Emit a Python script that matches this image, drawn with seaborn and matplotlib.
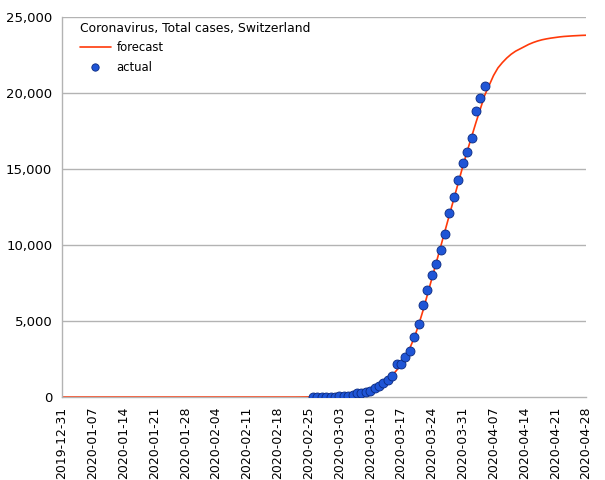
import pandas as pd
import matplotlib.pyplot as plt
import seaborn as sns
import matplotlib.dates as mdates
from matplotlib.ticker import FuncFormatter

# data
actual_start = "2020-02-26"
actual_cases = [1, 1, 8, 8, 18, 24, 42, 56, 90, 130,
                240, 280, 330, 420, 560, 720, 900, 1120, 1380, 2200,
                2200, 2650, 3050, 3930, 4820, 6070, 7020, 8030, 8770, 9670,
                10750, 12080, 13180, 14300, 15410, 16120, 17040, 18840, 19690, 20480]

forecast_first_day = "2019-12-31"
forecast_first_value = 0
forecast_start = "2020-02-22"
forecast_cases = [0, 2, 5, 10, 15, 22, 30, 40, 52, 68,
                  88, 115, 150, 195, 250, 320, 400, 500, 620, 770,
                  950, 1170, 1430, 1760, 2160, 2640, 3220, 3900, 4750, 5700,
                  6750, 7800, 8850, 9900, 10950, 12000, 13050, 14100, 15150, 16150,
                  17100, 18050, 18950, 19850, 20500, 21150, 21650, 22000, 22300, 22550,
                  22750, 22900, 23050, 23200, 23320, 23420, 23500, 23560, 23610, 23650,
                  23690, 23720, 23740, 23760, 23775, 23790, 23800]

title = "Coronavirus, Total cases, Switzerland"

actual = pd.DataFrame({
    "date": pd.date_range(actual_start, periods=len(actual_cases), freq="D"),
    "cases": actual_cases,
})
forecast = pd.DataFrame({
    "date": [pd.Timestamp(forecast_first_day)] + list(pd.date_range(forecast_start, periods=len(forecast_cases), freq="D")),
    "cases": [forecast_first_value] + forecast_cases,
})

sns.set_style("white")
plt.rcParams["font.family"] = ["DejaVu Sans"]
plt.rcParams["text.color"] = "black"
plt.rcParams["xtick.color"] = "black"
plt.rcParams["ytick.color"] = "black"

fig = plt.figure(figsize=(6.05, 4.8), dpi=100)
ax = fig.add_axes([62 / 605, 1 - 397 / 480, (586 - 62) / 605, (397 - 17) / 480])

grey = "#b3b3b3"
for y in range(5000, 25001, 5000):
    ax.axhline(y, color=grey, lw=1, zorder=0)

sns.lineplot(data=forecast, x="date", y="cases", ax=ax, color="#ff3a0a", lw=1.2,
             label="forecast", zorder=2)
sns.scatterplot(data=actual, x="date", y="cases", ax=ax, color="#1f55d6",
                edgecolor="#0b2a80", linewidth=0.6, s=42, label="actual", zorder=3)

ax.set_xlim(pd.Timestamp("2019-12-31"), pd.Timestamp("2020-04-28"))
ax.set_ylim(0, 25000)
ax.set_xticks(pd.date_range("2019-12-31", "2020-04-28", freq="7D"))
ax.xaxis.set_major_formatter(mdates.DateFormatter("%Y-%m-%d"))
ax.set_yticks(range(0, 25001, 5000))
ax.yaxis.set_major_formatter(FuncFormatter(lambda v, p: f"{int(v):,}"))
ax.tick_params(axis="x", rotation=90, labelsize=9, length=5, color=grey,
               labelcolor="black", pad=2)
ax.tick_params(axis="y", labelsize=9.5, length=5, color=grey,
               labelcolor="black", pad=2)
ax.set_xlabel("")
ax.set_ylabel("")

for s in ["top", "right"]:
    ax.spines[s].set_visible(False)
for s in ["left", "bottom"]:
    ax.spines[s].set_color(grey)
    ax.spines[s].set_linewidth(1)

leg = ax.legend(title=title, loc="upper left", frameon=False, fontsize=8.4,
                title_fontsize=8.9, handlelength=2.6, handletextpad=0.5,
                labelspacing=0.55, borderaxespad=0.0,
                bbox_to_anchor=(0.026, 1.0))
leg._legend_box.align = "left"
leg.legend_handles[1].set_sizes([28])

fig.savefig("out.png", dpi=100)
